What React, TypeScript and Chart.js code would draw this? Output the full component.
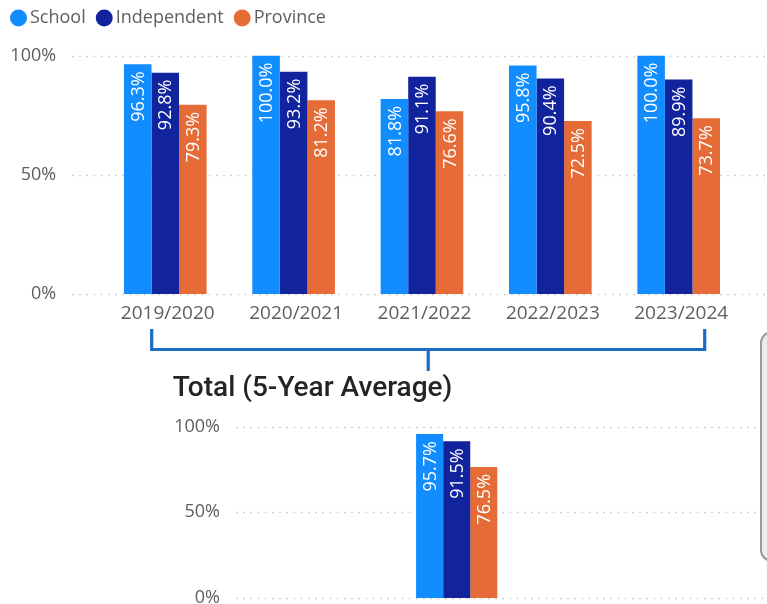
import React, { useEffect, useRef } from "react";
import { Chart, registerables } from "chart.js";

Chart.register(...registerables);

// ---------- data ----------
const categories = ["2019/2020", "2020/2021", "2021/2022", "2022/2023", "2023/2024"];
const seriesNames = ["School", "Independent", "Province"];
const seriesColors = ["#118DFF", "#12239E", "#E66C37"];
const schoolValues = [96.3, 100.0, 81.8, 95.8, 100.0];
const independentValues = [92.8, 93.2, 91.1, 90.4, 89.9];
const provinceValues = [79.3, 81.2, 76.6, 72.5, 73.7];

const totalCategories = ["Total"];
const totalSchool = [95.7];
const totalIndependent = [91.5];
const totalProvince = [76.5];

const yTickStep = 50;
const yMax = 100;
const totalTitle = "Total (5-Year Average)";

const FONT = '"Open Sans", "Noto Sans", sans-serif';
const AXIS_COLOR = "#605E5C";

// ---------- plugins ----------
const dottedGrid = (startX: number) => ({
  id: "dottedGrid",
  beforeDatasetsDraw(chart: any) {
    const { ctx, width } = chart;
    const y = chart.scales.y;
    ctx.save();
    ctx.strokeStyle = "#C8C6C4";
    ctx.lineWidth = 1.6;
    ctx.setLineDash([1.6, 5.6]);
    y.ticks.forEach((t: any) => {
      const py = Math.round(y.getPixelForValue(t.value)) + 0.5;
      ctx.beginPath();
      ctx.moveTo(startX, py);
      ctx.lineTo(width, py);
      ctx.stroke();
    });
    ctx.restore();
  },
});

const barLabels = {
  id: "barLabels",
  afterDatasetsDraw(chart: any) {
    const { ctx } = chart;
    ctx.save();
    ctx.font = `18px ${FONT}`;
    ctx.fillStyle = "#FFFFFF";
    ctx.textAlign = "right";
    ctx.textBaseline = "middle";
    chart.data.datasets.forEach((ds: any, di: number) => {
      const meta = chart.getDatasetMeta(di);
      meta.data.forEach((bar: any, i: number) => {
        const v = ds.data[i] as number;
        ctx.save();
        ctx.translate(bar.x + 1, bar.y + 7);
        ctx.rotate(-Math.PI / 2);
        ctx.fillText(v.toFixed(1) + "%", 0, 0);
        ctx.restore();
      });
    });
    ctx.restore();
  },
};

const legendSpacer = (extra: number) => ({
  id: "legendSpacer",
  beforeInit(chart: any) {
    const legend = chart.legend;
    if (!legend) return;
    const orig = legend.fit;
    legend.fit = function () {
      orig.call(this);
      this.height += extra;
    };
  },
});

function makeDatasets(a: number[], b: number[], c: number[]) {
  return [a, b, c].map((data, i) => ({
    label: seriesNames[i],
    data,
    backgroundColor: seriesColors[i],
    borderWidth: 0,
    pointStyle: "circle",
  }));
}

export default function App() {
  const topRef = useRef<HTMLCanvasElement>(null);
  const botRef = useRef<HTMLCanvasElement>(null);

  useEffect(() => {
    const top = new Chart(topRef.current!, {
      type: "bar",
      data: {
        labels: categories,
        datasets: makeDatasets(schoolValues, independentValues, provinceValues) as any,
      },
      options: {
        responsive: false,
        animation: false,
        layout: { padding: { left: 0, right: 24.15, top: 0, bottom: 0 } },
        datasets: { bar: { categoryPercentage: 0.644, barPercentage: 1.0 } },
        plugins: {
          legend: {
            position: "top",
            align: "start",
            labels: {
              usePointStyle: true,
              pointStyle: "circle",
              boxWidth: 5,
              boxHeight: 12,
              padding: 16,
              color: AXIS_COLOR,
              font: { family: FONT, size: 18 },
            },
          },
          tooltip: { enabled: false },
        },
        scales: {
          x: {
            grid: { display: false, drawTicks: false },
            border: { display: false },
            ticks: {
              color: AXIS_COLOR,
              font: { family: FONT, size: 19 },
              padding: 8,
              labelOffset: 2.5,
              maxRotation: 0,
              autoSkip: false,
            },
            afterFit: (s: any) => {
              s.height = 70;
            },
          },
          y: {
            min: 0,
            max: yMax,
            grid: { display: false, drawTicks: false },
            border: { display: false },
            ticks: {
              stepSize: yTickStep,
              color: AXIS_COLOR,
              font: { family: FONT, size: 18 },
              padding: 45,
              callback: (v: any) => v + "%",
            },
            afterFit: (s: any) => {
              s.width = 101.1;
            },
          },
        },
      } as any,
      plugins: [legendSpacer(18.5), dottedGrid(72), barLabels] as any,
    });

    const bot = new Chart(botRef.current!, {
      type: "bar",
      data: {
        labels: totalCategories,
        datasets: makeDatasets(totalSchool, totalIndependent, totalProvince) as any,
      },
      options: {
        responsive: false,
        animation: false,
        layout: { padding: { left: 172.7, right: 89.6, top: 0, bottom: 40 } },
        datasets: { bar: { categoryPercentage: 0.184, barPercentage: 1.0 } },
        plugins: {
          legend: { display: false },
          tooltip: { enabled: false },
          title: {
            display: true,
            text: totalTitle,
            align: "start",
            color: "#252423",
            font: { family: 'Roboto, "DejaVu Sans", sans-serif', size: 28, weight: "500" },
            padding: { top: 12, bottom: 21.1 },
          },
        },
        scales: {
          x: { display: false },
          y: {
            min: 0,
            max: yMax,
            grid: { display: false, drawTicks: false },
            border: { display: false },
            ticks: {
              stepSize: yTickStep,
              color: AXIS_COLOR,
              font: { family: FONT, size: 18 },
              padding: 16,
              callback: (v: any) => v + "%",
            },
            afterFit: (s: any) => {
              s.width = 63.3;
            },
          },
        },
      } as any,
      plugins: [dottedGrid(236), barLabels] as any,
    });

    return () => {
      top.destroy();
      bot.destroy();
    };
  }, []);

  return (
    <div
      style={{
        position: "fixed",
        left: 0,
        top: 0,
        width: 767,
        height: 604,
        overflow: "hidden",
        background: "#FFFFFF",
      }}
    >
      <canvas
        ref={topRef}
        width={767}
        height={371}
        style={{ position: "absolute", left: 0, top: -7 }}
      />
      <canvas
        ref={botRef}
        width={767}
        height={278}
        style={{ position: "absolute", left: 0, top: 360 }}
      />
      <svg
        width={767}
        height={604}
        style={{ position: "absolute", left: 0, top: 0, pointerEvents: "none" }}
      >
        <path
          d="M151.7 329 V349.5 H704.7 V329 M428.2 349.5 V371"
          stroke="#1A6CC4"
          strokeWidth={3.2}
          fill="none"
        />
      </svg>
      <div
        style={{
          position: "absolute",
          left: 760,
          top: 331,
          width: 40,
          height: 227,
          borderRadius: 12,
          border: "2px solid #9A9A9A",
          background: "#ECECEC",
        }}
      />
    </div>
  );
}
